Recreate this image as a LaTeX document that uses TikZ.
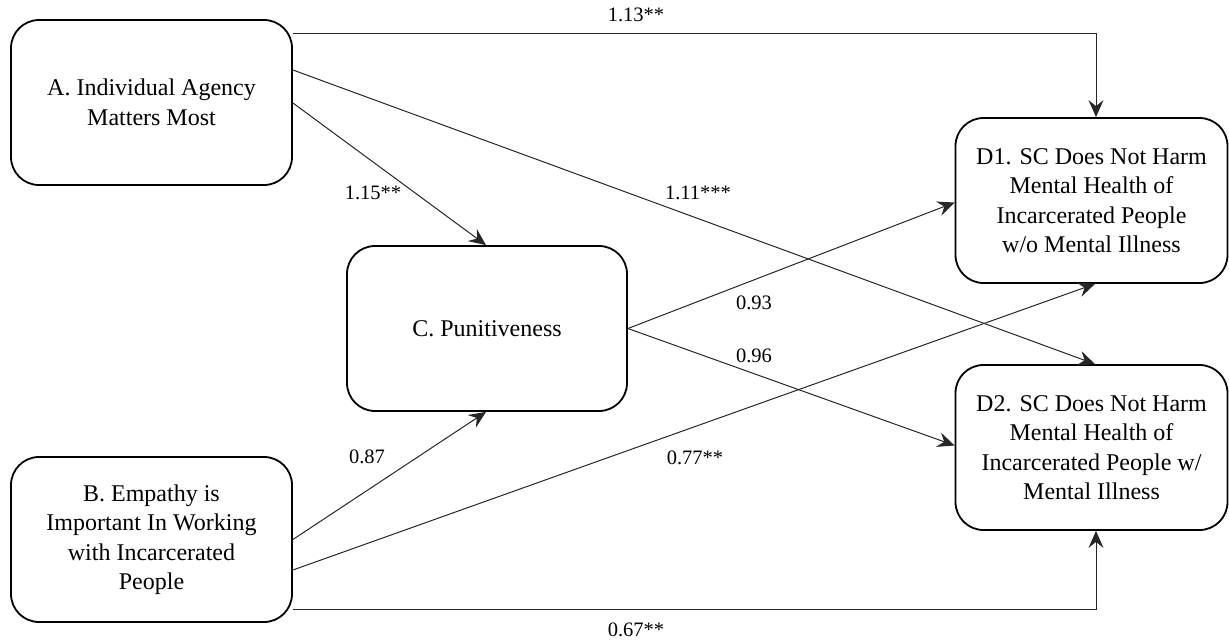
\documentclass[tikz,border=0pt]{standalone}
\usepackage{fontspec}
\setmainfont{Liberation Serif}
\usetikzlibrary{arrows.meta,calc}
\begin{document}
\begin{tikzpicture}[x=1pt,y=1pt,
  box/.style={draw=black, line width=1.8pt, rounded corners=28pt, align=center,
    font=\fontsize{24}{29.5}\selectfont, inner sep=0pt, minimum height=165pt},
  boxwide/.style={box, minimum width=281pt},
  boxright/.style={box, minimum width=272pt},
  conn/.style={draw=black!85, line width=1pt, -{Stealth[length=17pt,width=15pt,inset=6pt]}},
  lbl/.style={font=\fontsize{20.5}{24}\selectfont, inner sep=0pt}]
\useasboundingbox (0,0) rectangle (1229,-640);

\node[boxwide] (A) at (151.5,-102.5) {A. Individual Agency\\Matters Most};
\node[boxwide] (B) at (151.5,-539.5) {B. Empathy is\\Important In Working\\with Incarcerated\\People};
\node[boxwide, minimum width=280pt] (C) at (487,-328.5) {C. Punitiveness};
\node[boxright] (D1) at (1091.5,-200.5) {D1. SC Does Not Harm\\Mental Health of\\Incarcerated People\\w/o Mental Illness};
\node[boxright] (D2) at (1091.5,-447.5) {D2. SC Does Not Harm\\Mental Health of\\Incarcerated People w/\\Mental Illness};

% connectors
\draw[conn] ([yshift=69.5pt]A.east) -| ([xshift=4.5pt]D1.north);
\draw[conn] ([yshift=32.5pt]A.east) -- ([xshift=3.5pt]D2.north);
\draw[conn] ([yshift=-0.5pt]A.east) -- ([xshift=-1pt]C.north);
\draw[conn] (C.east) -- ([yshift=-2pt]D1.west);
\draw[conn] (C.east) -- ([yshift=2pt]D2.west);
\draw[conn] (B.east) -- ([xshift=-1pt]C.south);
\draw[conn] ([yshift=-30.5pt]B.east) -- ([xshift=3.5pt]D1.south);
\draw[conn] ([yshift=-69.5pt]B.east) -| ([xshift=4.5pt]D2.south);

% labels
\node[lbl] (l113) at (636,-15) {1.13**};
\node[lbl] (l115) at (373,-193) {1.15**};
\node[lbl] (l111) at (698,-193) {1.11***};
\node[lbl] (l093) at (754,-303) {0.93};
\node[lbl] (l096) at (754,-356) {0.96};
\node[lbl] (l087) at (367,-457) {0.87};
\node[lbl] (l077) at (695,-458) {0.77**};
\node[lbl] (l067) at (636,-630) {0.67**};
\end{tikzpicture}
\end{document}
